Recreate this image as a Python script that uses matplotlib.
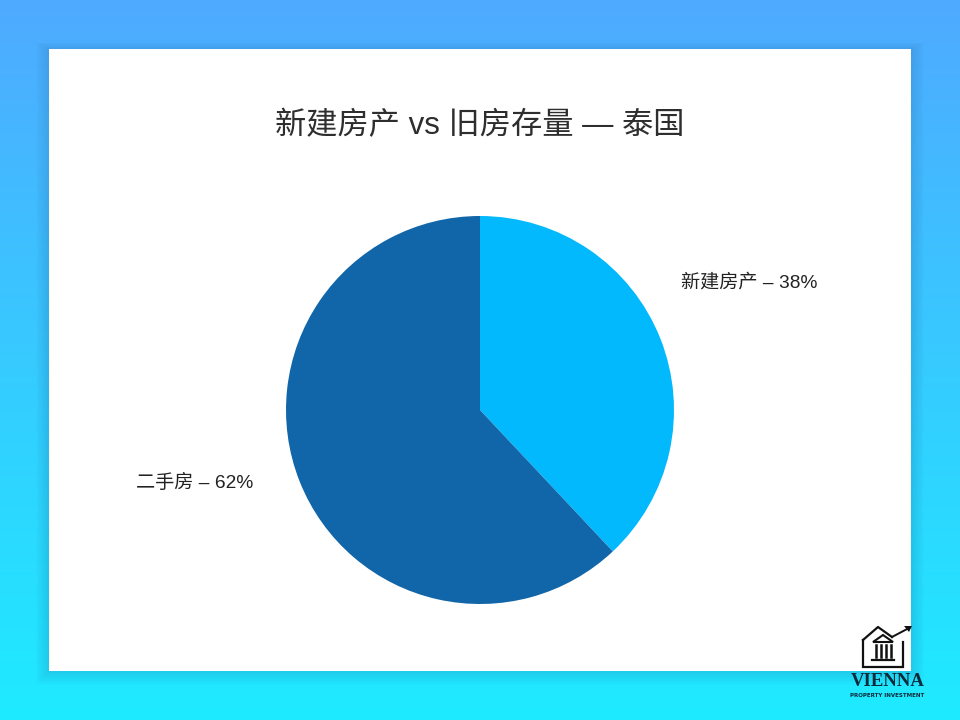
import numpy as np
import matplotlib
matplotlib.use('Agg')
import matplotlib.pyplot as plt
from matplotlib.patches import Rectangle, Polygon
from matplotlib.colors import LinearSegmentedColormap

plt.rcParams['font.family'] = ['Liberation Sans', 'Noto Sans CJK SC']

# data
labels = ['新建房产', '二手房']
shares = [38, 62]
colors = ['#02B9FE', '#1066A8']
title = '新建房产 vs 旧房存量 — 泰国'

fig = plt.figure(figsize=(9.6, 7.2), dpi=100)

# gradient background
bg = fig.add_axes([0, 0, 1, 1])
grad = LinearSegmentedColormap.from_list('bg', ['#4FAAFF', '#1EEBFF'])
bg.imshow(np.linspace(0, 1, 256).reshape(-1, 1), aspect='auto', cmap=grad,
          extent=[0, 1, 0, 1], origin='upper')
bg.set_xlim(0, 1)
bg.set_ylim(0, 1)
bg.axis('off')

# card with soft shadow
x0, y0, w, h = 49 / 960, 1 - 671 / 720, 862 / 960, 622 / 720
for i in range(8, 0, -1):
    d = i * 0.0022
    bg.add_patch(Rectangle((x0 - d * 0.75, y0 - d), w + d * 1.5, h + d * 1.5,
                           color='#1F5FA0', alpha=0.025, lw=0))
bg.add_patch(Rectangle((x0, y0), w, h, color='white', lw=0))

# title
fig.text(0.5, 1 - 126 / 720, title, ha='center', va='center', fontsize=22.5, color='#2E2E2E')

# pie
ax = fig.add_axes([(480 - 194) / 960, (720 - 604) / 720, 388 / 960, 388 / 720])
ax.pie(shares, colors=colors, startangle=90, counterclock=False, radius=1,
       wedgeprops=dict(linewidth=0))
ax.set_xlim(-1, 1)
ax.set_ylim(-1, 1)
ax.set_aspect('equal')
ax.axis('off')

ax.text(1.035, 0.655, f'{labels[0]} – {shares[0]}%', ha='left', va='center',
        fontsize=13.8, color='#222222')
ax.text(-1.17, -0.375, f'{labels[1]} – {shares[1]}%', ha='right', va='center',
        fontsize=13.8, color='#222222')

# logo, drawn in pixel coordinates
lg = fig.add_axes([840 / 960, 1 - 705 / 720, 110 / 960, 90 / 720])
lg.set_xlim(840, 950)
lg.set_ylim(705, 615)
lg.axis('off')
ink = '#111111'
lg.plot([863, 863, 903, 903], [640, 667, 667, 642], color=ink, lw=1.6,
        solid_joinstyle='miter')
lg.plot([863, 878, 892], [640, 627, 637], color=ink, lw=1.6)
lg.plot([892, 909], [637, 628], color=ink, lw=1.4)
lg.add_patch(Polygon([[912, 626], [904, 626], [909, 632]], closed=True, color=ink, lw=0))
lg.add_patch(Polygon([[873, 642], [893, 642], [883, 635]], closed=True, fill=False,
                     ec=ink, lw=1.5))
for cx in [876, 881, 886, 891]:
    lg.plot([cx, cx], [645, 657], color=ink, lw=1.8)
lg.plot([872, 894], [659.5, 659.5], color=ink, lw=1.6)
lg.text(887.5, 681, 'VIENNA', ha='center', va='center', fontsize=13.5,
        family='Liberation Serif', weight='bold', color='#0B2A3A')
lg.text(887.5, 695.5, 'PROPERTY INVESTMENT', ha='center', va='center', fontsize=4.0,
        family='DejaVu Sans', weight='bold', color='#0B2A3A')

fig.savefig('out.png', dpi=100)
